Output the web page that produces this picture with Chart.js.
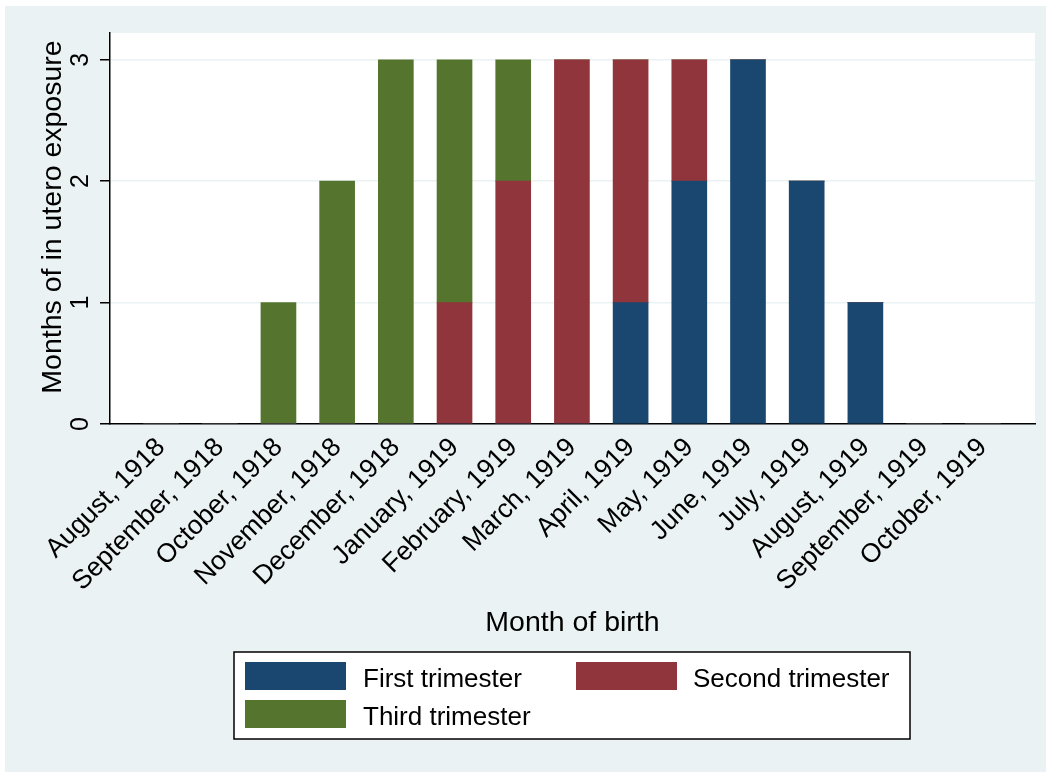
<!DOCTYPE html>
<html>
<head>
<meta charset="utf-8">
<script src="https://cdn.jsdelivr.net/npm/chart.js@4.4.1/dist/chart.umd.min.js"></script>
<style>
  html, body { margin: 0; padding: 0; background: #fff; }
  #wrap { width: 1050px; height: 772px; }
</style>
</head>
<body>
<div id="wrap"><canvas id="chart" width="1050" height="772"></canvas></div>
<script>
// Months of birth (category axis)
const months = [
  "August, 1918", "September, 1918", "October, 1918", "November, 1918",
  "December, 1918", "January, 1919", "February, 1919", "March, 1919",
  "April, 1919", "May, 1919", "June, 1919", "July, 1919",
  "August, 1919", "September, 1919", "October, 1919"
];

// Months of exposure in each trimester
const firstTri  = [0, 0, 0, 0, 0, 0, 0, 0, 1, 2, 3, 2, 1, 0, 0];
const secondTri = [0, 0, 0, 0, 0, 1, 2, 3, 2, 1, 0, 0, 0, 0, 0];
const thirdTri  = [0, 0, 1, 2, 3, 2, 1, 0, 0, 0, 0, 0, 0, 0, 0];

const yTicks = [0, 1, 2, 3];

const FONT = '"Liberation Sans", Arial, sans-serif';
const BG = "#eaf2f3";

const toPoints = (arr) => arr.map((v, i) => ({ x: i, y: v }));

// background, outer frame and text that Stata draws outside the plot area
const stataFrame = {
  id: "stataFrame",
  beforeDraw(chart) {
    const { ctx, chartArea: a } = chart;
    ctx.save();
    ctx.fillStyle = "#fff";
    ctx.fillRect(0, 0, chart.width, chart.height);
    ctx.fillStyle = BG;
    ctx.fillRect(5, 6, 1041, 766);
    ctx.fillStyle = "#fff";
    ctx.fillRect(a.left, a.top, a.right - a.left, a.bottom - a.top);
    ctx.restore();
  },
  afterDraw(chart) {
    const { ctx, chartArea: a } = chart;
    const y = chart.scales.y;
    ctx.save();
    ctx.fillStyle = "#000";

    // y tick labels, rotated
    ctx.font = "25px " + FONT;
    ctx.textAlign = "center";
    ctx.textBaseline = "alphabetic";
    y.ticks.forEach((t) => {
      const py = y.getPixelForValue(t.value);
      ctx.save();
      ctx.translate(88, py);
      ctx.rotate(-Math.PI / 2);
      ctx.fillText(String(t.value), 0, 0);
      ctx.restore();
    });

    // y title
    ctx.font = "28.5px " + FONT;
    ctx.save();
    ctx.translate(61, 217);
    ctx.rotate(-Math.PI / 2);
    ctx.fillText("Months of in utero exposure", 0, 0);
    ctx.restore();

    // x title
    ctx.fillText("Month of birth", (a.left + a.right) / 2, 631);

    // legend
    const lx = 234, ly = 652, lw = 676, lh = 87;
    ctx.fillStyle = "#fff";
    ctx.fillRect(lx, ly, lw, lh);
    ctx.strokeStyle = "#000";
    ctx.lineWidth = 1.5;
    ctx.strokeRect(lx, ly, lw, lh);
    const slots = [
      { sx: 245, sy: 662, tx: 363, ty: 687 },
      { sx: 576, sy: 662, tx: 693, ty: 687 },
      { sx: 245, sy: 700, tx: 363, ty: 725 }
    ];
    ctx.font = "26px " + FONT;
    ctx.textAlign = "left";
    chart.data.datasets.forEach((ds, i) => {
      const s = slots[i];
      ctx.fillStyle = ds.backgroundColor;
      ctx.fillRect(s.sx, s.sy, 101, 28);
      ctx.fillStyle = "#000";
      ctx.fillText(ds.label, s.tx, s.ty);
    });
    ctx.restore();
  }
};

new Chart(document.getElementById("chart"), {
  type: "bar",
  data: {
    datasets: [
      { label: "First trimester", data: toPoints(firstTri), backgroundColor: "#1a476f" },
      { label: "Second trimester", data: toPoints(secondTri), backgroundColor: "#90353b" },
      { label: "Third trimester", data: toPoints(thirdTri), backgroundColor: "#55752f" }
    ]
  },
  options: {
    responsive: false,
    animation: false,
    devicePixelRatio: 1,
    layout: { padding: { left: 0, top: 33, right: 15, bottom: 0 } },
    datasets: { bar: { barThickness: 35, borderWidth: 0 } },
    plugins: { legend: { display: false }, tooltip: { enabled: false } },
    scales: {
      x: {
        type: "linear",
        stacked: true,
        offset: false,
        min: -0.87,
        max: months.length - 1 + 0.89,
        afterBuildTicks: (s) => { s.ticks = months.map((m, i) => ({ value: i })); },
        afterFit: (s) => { s.height = 348; },
        grid: { display: false, drawTicks: false, offset: false },
        border: { display: true, color: "#000", width: 1.5 },
        ticks: {
          autoSkip: false,
          minRotation: 45,
          maxRotation: 45,
          padding: 8,
          color: "#000",
          font: { family: FONT, size: 26.5 },
          callback: (v) => months[v]
        }
      },
      y: {
        stacked: true,
        min: 0,
        max: 3.22,
        afterBuildTicks: (s) => { s.ticks = yTicks.map((v) => ({ value: v })); },
        afterFit: (s) => { s.width = 110; },
        grid: {
          color: (c) => (c.tick && c.tick.value === 0 ? "rgba(0,0,0,0)" : BG),
          lineWidth: 1.5,
          tickColor: "#000",
          tickLength: 10,
          drawTicks: true
        },
        border: { display: true, color: "#000", width: 1.5 },
        ticks: { display: false }
      }
    }
  },
  plugins: [stataFrame]
});
</script>
</body>
</html>
